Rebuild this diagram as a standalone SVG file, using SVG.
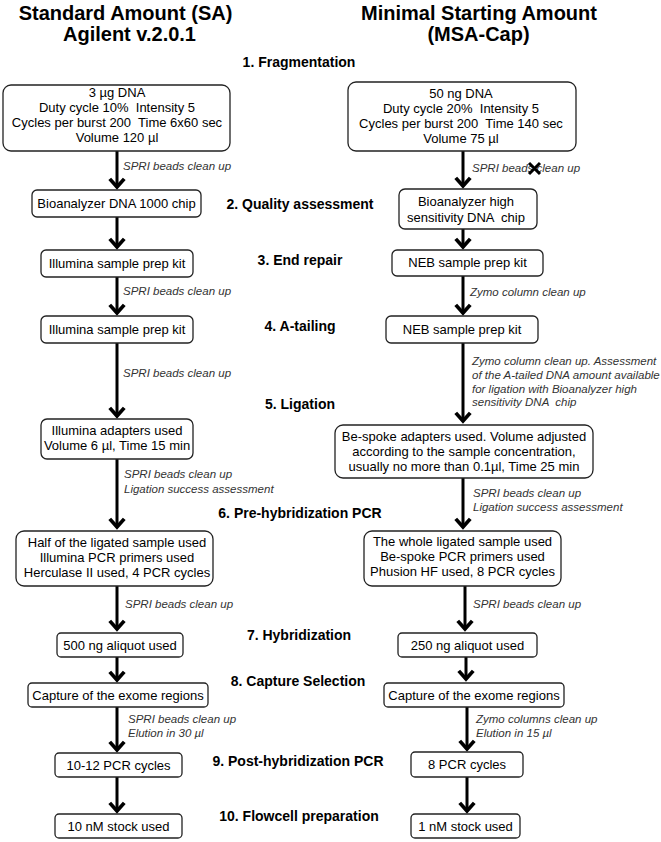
<svg xmlns="http://www.w3.org/2000/svg" width="661" height="842" viewBox="0 0 661 842">
<style>
text{font-family:"Liberation Sans",Arial,sans-serif;white-space:pre}
.t{font-size:20px;font-weight:bold;text-anchor:middle;fill:#000}
.s{font-size:14px;font-weight:bold;text-anchor:middle;fill:#000}
.b{font-size:13px;text-anchor:middle;fill:#000}
.l{font-size:11.5px;font-style:italic;fill:#333}
.box{fill:#fff;stroke:#222;stroke-width:1.3}
.ar{stroke:#000;stroke-width:3;fill:none}
.x{stroke:#000;stroke-width:3;fill:none}
</style>
<defs>
<marker id="ah" markerUnits="userSpaceOnUse" markerWidth="20" markerHeight="20" refX="8" refY="8" orient="auto" viewBox="0 0 16 16" overflow="visible">
<path d="M1.5,2.2 L8,8 L1.5,13.8" fill="none" stroke="#000" stroke-width="3"/>
</marker>
</defs>
<rect width="661" height="842" fill="#fff"/>
<g id="titles">
<text class="t" x="125.5" y="20">Standard Amount (SA)</text>
<text class="t" x="129.5" y="41">Agilent v.2.0.1</text>
<text class="t" x="479" y="20">Minimal Starting Amount</text>
<text class="t" x="478.5" y="41">(MSA-Cap)</text>
</g>
<g id="steps">
<text class="s" x="299" y="67">1. Fragmentation</text>
<text class="s" x="300" y="209">2. Quality assessment</text>
<text class="s" x="300" y="265">3. End repair</text>
<text class="s" x="300" y="331">4. A-tailing</text>
<text class="s" x="300" y="409">5. Ligation</text>
<text class="s" x="300" y="518">6. Pre-hybridization PCR</text>
<text class="s" x="299" y="640">7. Hybridization</text>
<text class="s" x="298" y="686">8. Capture Selection</text>
<text class="s" x="298" y="766">9. Post-hybridization PCR</text>
<text class="s" x="299" y="821">10. Flowcell preparation</text>
</g>
<g id="connectors">
<line class="ar" x1="117" y1="151" x2="117" y2="187" marker-end="url(#ah)"/>
<line class="ar" x1="117" y1="217" x2="117" y2="247" marker-end="url(#ah)"/>
<line class="ar" x1="117" y1="277" x2="117" y2="313" marker-end="url(#ah)"/>
<line class="ar" x1="117" y1="343" x2="117" y2="416" marker-end="url(#ah)"/>
<line class="ar" x1="117" y1="459" x2="117" y2="527" marker-end="url(#ah)"/>
<line class="ar" x1="117" y1="586" x2="117" y2="629" marker-end="url(#ah)"/>
<line class="ar" x1="117" y1="657" x2="117" y2="680" marker-end="url(#ah)"/>
<line class="ar" x1="117" y1="707" x2="117" y2="750" marker-end="url(#ah)"/>
<line class="ar" x1="117" y1="777" x2="117" y2="811" marker-end="url(#ah)"/>
<line class="ar" x1="463" y1="151" x2="463" y2="186" marker-end="url(#ah)"/>
<line class="ar" x1="463" y1="229" x2="463" y2="247" marker-end="url(#ah)"/>
<line class="ar" x1="463" y1="276" x2="463" y2="313" marker-end="url(#ah)"/>
<line class="ar" x1="463" y1="343" x2="463" y2="421" marker-end="url(#ah)"/>
<line class="ar" x1="463" y1="478" x2="463" y2="527" marker-end="url(#ah)"/>
<line class="ar" x1="465" y1="586" x2="465" y2="629" marker-end="url(#ah)"/>
<line class="ar" x1="466" y1="657" x2="466" y2="679" marker-end="url(#ah)"/>
<line class="ar" x1="467" y1="707" x2="467" y2="749" marker-end="url(#ah)"/>
<line class="ar" x1="467" y1="777" x2="467" y2="811" marker-end="url(#ah)"/>
</g>
<g id="connector-labels">
<text class="l" x="123" y="170">SPRI beads clean up</text>
<text class="l" x="123" y="295">SPRI beads clean up</text>
<text class="l" x="123" y="377">SPRI beads clean up</text>
<text class="l" x="124" y="478">SPRI beads clean up</text>
<text class="l" x="124" y="492.5">Ligation success assessment</text>
<text class="l" x="125" y="608">SPRI beads clean up</text>
<text class="l" x="128" y="723">SPRI beads clean up</text>
<text class="l" x="128" y="737">Elution in 30 µl</text>
<text class="l" x="472" y="172">SPRI beads clean up</text>
<path class="x" d="M529,163 L540,174 M540,163 L529,174"/>
<text class="l" x="470" y="296">Zymo column clean up</text>
<text class="l" x="472" y="365">Zymo column clean up. Assessment</text>
<text class="l" x="472" y="378.5">of the A-tailed DNA amount available</text>
<text class="l" x="472" y="392.5">for ligation with Bioanalyzer high</text>
<text class="l" x="472" y="406">sensitivity DNA  chip</text>
<text class="l" x="473" y="497">SPRI beads clean up</text>
<text class="l" x="473" y="511">Ligation success assessment</text>
<text class="l" x="473" y="608">SPRI beads clean up</text>
<text class="l" x="476" y="723">Zymo columns clean up</text>
<text class="l" x="476" y="737">Elution in 15 µl</text>
</g>
<g id="L1"><rect class="box" x="3" y="85" width="227" height="66" rx="8"/>
<text class="b" x="117" y="97">3 µg DNA</text>
<text class="b" x="117" y="112">Duty cycle 10%  Intensity 5</text>
<text class="b" x="117" y="127">Cycles per burst 200  Time 6x60 sec</text>
<text class="b" x="117" y="142">Volume 120 µl</text></g>
<g id="L2"><rect class="box" x="32" y="190" width="169" height="27" rx="5"/><text class="b" x="116.5" y="208">Bioanalyzer DNA 1000 chip</text></g>
<g id="L3"><rect class="box" x="41" y="250" width="152" height="27" rx="5"/><text class="b" x="117" y="268">Illumina sample prep kit</text></g>
<g id="L4"><rect class="box" x="41" y="316" width="152" height="27" rx="5"/><text class="b" x="117" y="334">Illumina sample prep kit</text></g>
<g id="L5"><rect class="box" x="41" y="419" width="152" height="40" rx="6"/>
<text class="b" x="117" y="435">Illumina adapters used</text>
<text class="b" x="117" y="450">Volume 6 µl, Time 15 min</text></g>
<g id="L6"><rect class="box" x="16" y="531" width="197" height="55" rx="8"/>
<text class="b" x="117" y="547">Half of the ligated sample used</text>
<text class="b" x="117" y="562">Illumina PCR primers used</text>
<text class="b" x="117" y="577">Herculase II used, 4 PCR cycles</text></g>
<g id="L7"><rect class="box" x="57" y="633" width="126" height="24" rx="4"/><text class="b" x="120" y="650">500 ng aliquot used</text></g>
<g id="L8"><rect class="box" x="28" y="683" width="180" height="24" rx="4"/><text class="b" x="118" y="700">Capture of the exome regions</text></g>
<g id="L9"><rect class="box" x="55" y="753" width="127" height="24" rx="4"/><text class="b" x="118.5" y="770">10-12 PCR cycles</text></g>
<g id="L10"><rect class="box" x="55" y="814" width="127" height="24" rx="4"/><text class="b" x="118.5" y="831">10 nM stock used</text></g>
<g id="R1"><rect class="box" x="348" y="82" width="228" height="69" rx="8"/>
<text class="b" x="461" y="98">50 ng DNA</text>
<text class="b" x="461" y="113">Duty cycle 20%  Intensity 5</text>
<text class="b" x="461" y="128">Cycles per burst 200  Time 140 sec</text>
<text class="b" x="461" y="143">Volume 75 µl</text></g>
<g id="R2"><rect class="box" x="399" y="189" width="138" height="40" rx="6"/>
<text class="b" x="466" y="206">Bioanalyzer high</text>
<text class="b" x="466" y="221.5">sensitivity DNA  chip</text></g>
<g id="R3"><rect class="box" x="392" y="250" width="151" height="26" rx="5"/><text class="b" x="467.5" y="267">NEB sample prep kit</text></g>
<g id="R4"><rect class="box" x="386" y="316" width="152" height="27" rx="5"/><text class="b" x="462" y="334">NEB sample prep kit</text></g>
<g id="R5"><rect class="box" x="335" y="425" width="258" height="53" rx="8"/>
<text class="b" x="464" y="441">Be-spoke adapters used. Volume adjusted</text>
<text class="b" x="464" y="456">according to the sample concentration,</text>
<text class="b" x="464" y="471">usually no more than 0.1µl, Time 25 min</text></g>
<g id="R6"><rect class="box" x="364" y="531" width="197" height="55" rx="8"/>
<text class="b" x="462.5" y="546">The whole ligated sample used</text>
<text class="b" x="462.5" y="561">Be-spoke PCR primers used</text>
<text class="b" x="462.5" y="576">Phusion HF used, 8 PCR cycles</text></g>
<g id="R7"><rect class="box" x="398" y="633" width="139" height="24" rx="4"/><text class="b" x="467.5" y="650">250 ng aliquot used</text></g>
<g id="R8"><rect class="box" x="384" y="683" width="180" height="24" rx="4"/><text class="b" x="474" y="700">Capture of the exome regions</text></g>
<g id="R9"><rect class="box" x="411" y="752" width="112" height="25" rx="4"/><text class="b" x="467" y="769">8 PCR cycles</text></g>
<g id="R10"><rect class="box" x="411" y="814" width="109" height="24" rx="4"/><text class="b" x="465.5" y="831">1 nM stock used</text></g>
</svg>
